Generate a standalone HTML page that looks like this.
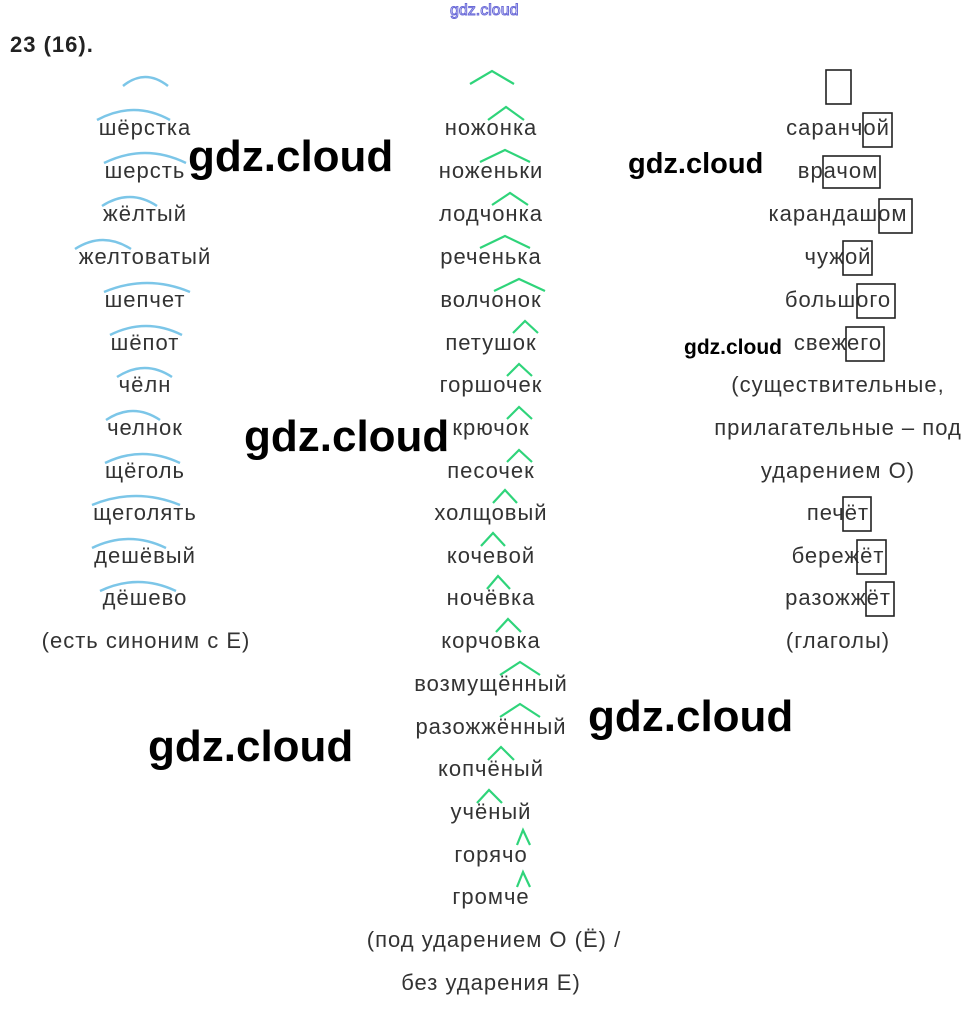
<!DOCTYPE html>
<html><head><meta charset="utf-8"><style>
body{margin:0;background:#fff;width:976px;height:1009px;position:relative;overflow:hidden;font-family:"Liberation Sans",sans-serif;}
.w{position:absolute;width:300px;text-align:center;font-size:22px;letter-spacing:1px;color:#333;line-height:24px;white-space:nowrap}
.g{position:absolute;font-family:"Liberation Sans",sans-serif;font-weight:bold;color:#000;white-space:nowrap;line-height:1}
svg{position:absolute;left:0;top:0}
</style></head><body>
<div class="g" style="left:450px;top:3px;font-size:16px;font-weight:normal;color:#fff;-webkit-text-stroke:1px #6a6ad8">gdz.cloud</div>
<div class="g" style="left:10px;top:34px;font-size:22px;letter-spacing:1px;color:#222">23 (16).</div>

<div class="w" style="left:-5px;top:116px">шёрстка</div>
<div class="w" style="left:-5px;top:159px">шерсть</div>
<div class="w" style="left:-5px;top:202px">жёлтый</div>
<div class="w" style="left:-5px;top:245px">желтоватый</div>
<div class="w" style="left:-5px;top:288px">шепчет</div>
<div class="w" style="left:-5px;top:331px">шёпот</div>
<div class="w" style="left:-5px;top:373px">чёлн</div>
<div class="w" style="left:-5px;top:416px">челнок</div>
<div class="w" style="left:-5px;top:459px">щёголь</div>
<div class="w" style="left:-5px;top:501px">щеголять</div>
<div class="w" style="left:-5px;top:544px">дешёвый</div>
<div class="w" style="left:-5px;top:586px">дёшево</div>
<div class="w" style="left:-4px;top:629px">(есть синоним с Е)</div>

<div class="w" style="left:341px;top:116px">ножонка</div>
<div class="w" style="left:341px;top:159px">ноженьки</div>
<div class="w" style="left:341px;top:202px">лодчонка</div>
<div class="w" style="left:341px;top:245px">реченька</div>
<div class="w" style="left:341px;top:288px">волчонок</div>
<div class="w" style="left:341px;top:331px">петушок</div>
<div class="w" style="left:341px;top:373px">горшочек</div>
<div class="w" style="left:341px;top:416px">крючок</div>
<div class="w" style="left:341px;top:459px">песочек</div>
<div class="w" style="left:341px;top:501px">холщовый</div>
<div class="w" style="left:341px;top:544px">кочевой</div>
<div class="w" style="left:341px;top:586px">ночёвка</div>
<div class="w" style="left:341px;top:629px">корчовка</div>
<div class="w" style="left:341px;top:672px">возмущённый</div>
<div class="w" style="left:341px;top:715px">разожжённый</div>
<div class="w" style="left:341px;top:757px">копчёный</div>
<div class="w" style="left:341px;top:800px">учёный</div>
<div class="w" style="left:341px;top:843px">горячо</div>
<div class="w" style="left:341px;top:885px">громче</div>
<div class="w" style="left:344px;top:928px">(под ударением О (Ё) /</div>
<div class="w" style="left:341px;top:971px">без ударения Е)</div>

<div class="w" style="left:688px;top:116px">саранчой</div>
<div class="w" style="left:688px;top:159px">врачом</div>
<div class="w" style="left:688px;top:202px">карандашом</div>
<div class="w" style="left:688px;top:245px">чужой</div>
<div class="w" style="left:688px;top:288px">большого</div>
<div class="w" style="left:688px;top:331px">свежего</div>
<div class="w" style="left:688px;top:373px">(существительные,</div>
<div class="w" style="left:688px;top:416px">прилагательные – под</div>
<div class="w" style="left:688px;top:459px">ударением О)</div>
<div class="w" style="left:688px;top:501px">печёт</div>
<div class="w" style="left:688px;top:544px">бережёт</div>
<div class="w" style="left:688px;top:586px">разожжёт</div>
<div class="w" style="left:688px;top:629px">(глаголы)</div>

<svg width="976" height="1009">
<g fill="none" stroke="#7cc6e8" stroke-width="2.5">
<path d="M123,86 Q145,68 168,86"/>
<path d="M97,120 Q134,100 170,120"/>
<path d="M104,163 Q145,143 186,163"/>
<path d="M102,206 Q130,188 157,206"/>
<path d="M75,249 Q103,231 131,249"/>
<path d="M104,292 Q147,274 190,292"/>
<path d="M110,335 Q146,317 182,335"/>
<path d="M117,377 Q145,359 172,377"/>
<path d="M106,420 Q133,402 160,420"/>
<path d="M105,463 Q142,445 180,463"/>
<path d="M92,505 Q136,487 180,505"/>
<path d="M92,548 Q129,530 166,548"/>
<path d="M100,591 Q138,573 176,591"/>
</g>
<g fill="none" stroke="#2fd47a" stroke-width="2.2">
<path d="M470,84 L492,71 L514,84"/>
<path d="M488,120 L506,107 L524,120"/>
<path d="M480,162 L505,150 L530,162"/>
<path d="M492,205 L510,193 L528,205"/>
<path d="M480,248 L505,236 L530,248"/>
<path d="M494,291 L519,279 L545,291"/>
<path d="M513,333 L525,321 L538,333"/>
<path d="M507,376 L519,364 L532,376"/>
<path d="M507,419 L519,407 L532,419"/>
<path d="M507,462 L519,450 L532,462"/>
<path d="M493,503 L505,490 L517,503"/>
<path d="M481,546 L493,533 L505,546"/>
<path d="M487,589 L498,576 L510,589"/>
<path d="M496,632 L508,619 L521,632"/>
<path d="M500,675 L520,662 L540,675"/>
<path d="M500,717 L520,704 L540,717"/>
<path d="M488,760 L501,747 L514,760"/>
<path d="M477,803 L489,790 L502,803"/>
<path d="M517,845 L523,830 L530,845"/>
<path d="M517,887 L523,872 L530,887"/>
</g>
<g fill="none" stroke="#222" stroke-width="1.6">
<rect x="826" y="70" width="25" height="34"/>
<rect x="863" y="113" width="29" height="34"/>
<rect x="823" y="156" width="57" height="32"/>
<rect x="879" y="199" width="33" height="34"/>
<rect x="843" y="241" width="29" height="34"/>
<rect x="857" y="284" width="38" height="34"/>
<rect x="846" y="327" width="38" height="34"/>
<rect x="843" y="497" width="28" height="34"/>
<rect x="857" y="540" width="29" height="34"/>
<rect x="866" y="582" width="28" height="34"/>
</g>
</svg>

<div class="g" style="left:188px;top:135px;font-size:44px">gdz.cloud</div>
<div class="g" style="left:244px;top:415px;font-size:44px">gdz.cloud</div>
<div class="g" style="left:148px;top:725px;font-size:44px">gdz.cloud</div>
<div class="g" style="left:588px;top:695px;font-size:44px">gdz.cloud</div>
<div class="g" style="left:628px;top:150px;font-size:29px">gdz.cloud</div>
<div class="g" style="left:684px;top:337px;font-size:21px">gdz.cloud</div>
</body></html>
